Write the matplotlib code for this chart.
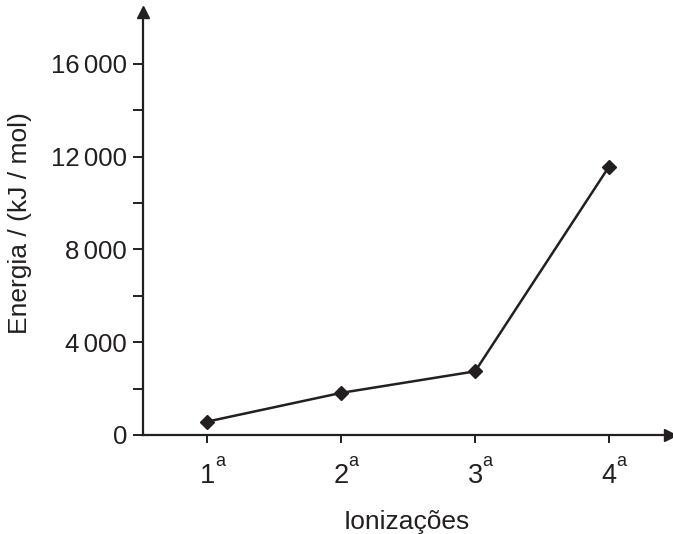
import matplotlib
matplotlib.use('Agg')
import matplotlib.pyplot as plt

# dados: energias de ionização (kJ/mol)
ionizacoes = [1, 2, 3, 4]
rotulos = ['1', '2', '3', '4']
energias = [578, 1817, 2745, 11577]
yticks = [0, 4000, 8000, 12000, 16000]
ytick_labels = ['0', '4\u2006000', '8\u2006000', '12\u2006000', '16\u2006000']
yminor = [2000, 6000, 10000, 14000]

plt.rcParams['font.family'] = ['Liberation Sans', 'DejaVu Sans']

fig = plt.figure(figsize=(6.73, 5.34), dpi=100)
ax = fig.add_axes([143 / 673, 99 / 534, (670 - 143) / 673, (435 - 12) / 534])

cor = '#231f20'
ax.plot(ionizacoes, energias, color=cor, lw=1.8, marker='D', markersize=7.5, clip_on=False)

ax.set_xlim(0.52, 4.455)
ax.set_ylim(0, 18240)

for s in ['top', 'right']:
    ax.spines[s].set_visible(False)
for s in ['left', 'bottom']:
    ax.spines[s].set_linewidth(1.6)
    ax.spines[s].set_color(cor)

# setas nos eixos
ax.plot(1, 0, '>', color=cor, markersize=9, transform=ax.transAxes, clip_on=False)
ax.plot(0, 1, '^', color=cor, markersize=9, transform=ax.transAxes, clip_on=False)

ax.set_yticks(yticks)
ax.set_yticklabels(ytick_labels)
ax.set_yticks(yminor, minor=True)
ax.set_xticks(ionizacoes)
ax.set_xticklabels(rotulos)

ax.tick_params(axis='y', which='both', length=7, width=1.4, color=cor, labelsize=18.5, pad=4.5, labelcolor=cor)
ax.tick_params(axis='x', which='both', length=6, width=1.4, color=cor, labelsize=19.5, pad=14, labelcolor=cor)

# "a" sobrescrito dos ordinais
for x in ionizacoes:
    ax.annotate('a', xy=(x, 0), xycoords=('data', 'axes fraction'),
                xytext=(9, -25), textcoords='offset points',
                ha='center', va='bottom', fontsize=13, color=cor)

ax.set_ylabel('Energia / (kJ / mol)', fontsize=19, color=cor, labelpad=14)
ax.set_xlabel('Ionizações', fontsize=19, color=cor, labelpad=15)

fig.savefig('out.png', dpi=100)
